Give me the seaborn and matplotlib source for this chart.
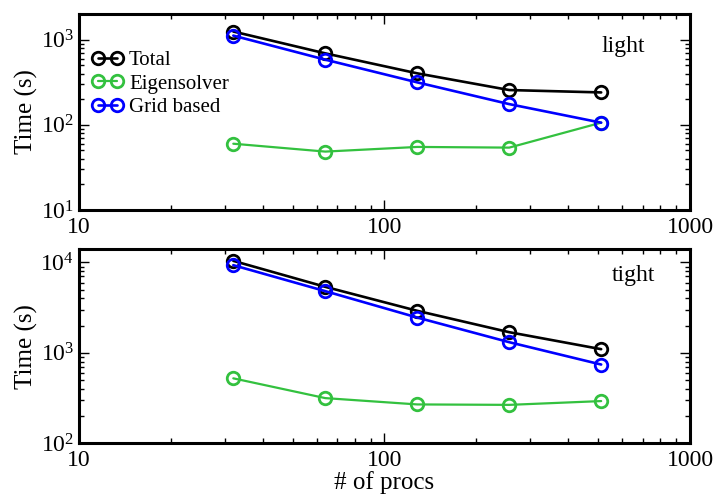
import matplotlib
matplotlib.use("Agg")
import matplotlib.pyplot as plt
import numpy as np
import pandas as pd
import seaborn as sns
from matplotlib.ticker import LogLocator, NullFormatter

# data
procs = [32, 64, 128, 256, 512]
light_total = [1245, 690, 402, 256, 240]
light_eigen = [60, 48.5, 55, 54, 106]
light_grid = [1115, 582, 315, 175, 106]
tight_total = [10430, 5380, 2920, 1694, 1099]
tight_eigen = [523, 316, 269, 266, 293]
tight_grid = [9340, 4820, 2460, 1313, 743]

series_names = ["Total", "Eigensolver", "Grid based"]
colors = {"Total": "black", "Eigensolver": "#33c13f", "Grid based": "#0000ff"}

sns.set_style("ticks", {"axes.edgecolor": "black", "xtick.color": "black",
                        "ytick.color": "black", "text.color": "black",
                        "axes.labelcolor": "black"})
plt.rcParams['font.family'] = ['Liberation Serif', 'DejaVu Serif']
plt.rcParams['mathtext.fontset'] = 'custom'
plt.rcParams['mathtext.rm'] = 'Liberation Serif'
plt.rcParams['mathtext.it'] = 'Liberation Serif:italic'

fig = plt.figure(figsize=(7.16, 4.96), dpi=100)
ax_top = fig.add_axes([0.1103, 0.5766, 0.8534, 0.3952])
ax_bot = fig.add_axes([0.1103, 0.1063, 0.8534, 0.3911])

panels = [
    (ax_top, [light_total, light_eigen, light_grid], (10, 2000), "light", (0.890, 0.808)),
    (ax_bot, [tight_total, tight_eigen, tight_grid], (100, 14000), "tight", (0.908, 0.838)),
]

for ax, vals, ylim, tag, tagpos in panels:
    df = pd.DataFrame({"procs": procs * 3,
                       "time": sum(vals, []),
                       "part": np.repeat(series_names, len(procs))})
    for name in series_names:
        sub = df[df["part"] == name]
        sns.lineplot(data=sub, x="procs", y="time", ax=ax, color=colors[name],
                     marker="o", markersize=9, markerfacecolor="none",
                     markeredgecolor=colors[name], markeredgewidth=2,
                     linewidth=1.9 if name != "Eigensolver" else 1.6,
                     label=name, legend=False)
    ax.set_xscale("log")
    ax.set_yscale("log")
    ax.set_xlim(10, 1000)
    ax.set_ylim(*ylim)
    ax.xaxis.set_minor_locator(LogLocator(base=10, subs=np.arange(2, 10)))
    ax.yaxis.set_minor_locator(LogLocator(base=10, subs=np.arange(2, 10)))
    ax.xaxis.set_minor_formatter(NullFormatter())
    ax.yaxis.set_minor_formatter(NullFormatter())
    ax.set_xticks([10, 100, 1000])
    ax.set_xticklabels(["10", "100", "1000"])
    ax.tick_params(which="both", direction="in", top=True, right=True,
                   labelsize=17, width=1)
    ax.tick_params(which="major", length=7)
    ax.tick_params(axis="x", which="major", pad=5)
    ax.tick_params(which="minor", length=3.5)
    for sp in ax.spines.values():
        sp.set_linewidth(2.2)
    ax.set_ylabel("Time (s)", fontsize=18, labelpad=2)
    ax.set_xlabel("")
    ax.text(tagpos[0], tagpos[1], tag, transform=ax.transAxes, fontsize=17,
            ha="center", va="baseline")

ax_bot.set_xlabel("# of procs", fontsize=18, labelpad=0)

ax_top.legend(loc="upper left", bbox_to_anchor=(-0.01, 0.91), frameon=False,
              numpoints=2, fontsize=15, handlelength=1.5, handletextpad=0.3,
              labelspacing=0.2, borderaxespad=0.5)

plt.savefig("out.png", dpi=100)
plt.close()
